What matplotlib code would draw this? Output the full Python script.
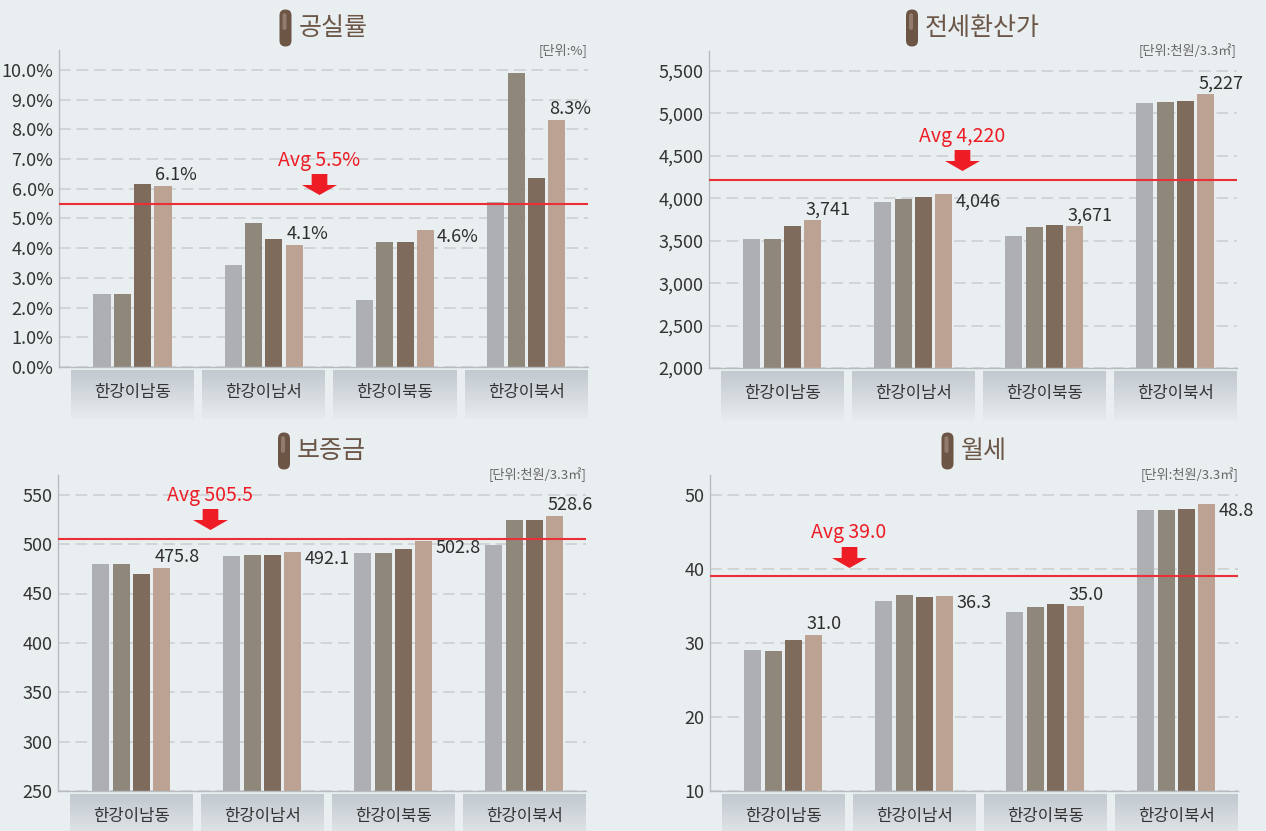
import numpy as np
import matplotlib
matplotlib.use("Agg")
import matplotlib.pyplot as plt
from matplotlib import transforms as mtransforms
from matplotlib.patches import Rectangle, FancyBboxPatch
from matplotlib.path import Path
from matplotlib.colors import to_rgb

plt.rcParams['font.family'] = ['Noto Sans CJK KR', 'DejaVu Sans']

# ---- data -------------------------------------------------------------
categories = ['한강이남동', '한강이남서', '한강이북동', '한강이북서']

# 공실률 (%)
vacancy_s1 = [2.45, 3.45, 2.25, 5.55]
vacancy_s2 = [2.45, 4.85, 4.2, 9.9]
vacancy_s3 = [6.15, 4.3, 4.2, 6.35]
vacancy_s4 = [6.1, 4.1, 4.6, 8.3]
vacancy_avg = 5.5

# 전세환산가 (천원/3.3㎡)
jeonse_s1 = [3515, 3958, 3553, 5119]
jeonse_s2 = [3515, 3990, 3660, 5131]
jeonse_s3 = [3672, 4012, 3680, 5146]
jeonse_s4 = [3741, 4046, 3671, 5227]
jeonse_avg = 4220

# 보증금 (천원/3.3㎡)
deposit_s1 = [479.5, 488.0, 491.0, 499.0]
deposit_s2 = [479.5, 489.3, 491.0, 524.7]
deposit_s3 = [469.7, 489.0, 495.3, 524.7]
deposit_s4 = [475.8, 492.1, 502.8, 528.6]
deposit_avg = 505.5

# 월세 (천원/3.3㎡)
rent_s1 = [29.0, 35.7, 34.2, 48.0]
rent_s2 = [28.85, 36.5, 34.8, 48.0]
rent_s3 = [30.4, 36.2, 35.2, 48.05]
rent_s4 = [31.0, 36.3, 35.0, 48.8]
rent_avg = 39.0

BG = '#e9eef0'
BAR_COLORS = ['#aeafb2', '#8e877a', '#7f6b5c', '#bca293']
RED = '#ee1c25'
TITLE_BROWN = '#6b5647'
W, H = 1266, 831

fig = plt.figure(figsize=(W / 100, H / 100), dpi=100, facecolor=BG)

# block arrow used under the "Avg" captions
arrow_path = Path([(-0.224, 0.3), (0.224, 0.3), (0.224, -0.014), (0.5, -0.014),
                   (0.0, -0.3), (-0.5, -0.014), (-0.224, -0.014), (-0.224, 0.3)],
                  closed=True)


def px_axes(left, top, right, bottom):
    return fig.add_axes([left / W, 1 - bottom / H, (right - left) / W, (bottom - top) / H])


def draw_title(ax, title, y_px):
    bbox = ax.get_position()
    cx = (bbox.x0 + bbox.x1) / 2 * W
    txt = fig.text(0, 1 - y_px / H, title, fontsize=18,
                   color=TITLE_BROWN, ha='left', va='center')
    renderer = fig.canvas.get_renderer()
    tw = txt.get_window_extent(renderer).width
    icon_w, gap, icon_h = 12, 7, 37
    start = cx - (icon_w + gap + tw) / 2
    txt.set_x((start + icon_w + gap) / W)
    y0 = H - y_px - icon_h / 2
    pill = FancyBboxPatch((start / 100, y0 / 100), icon_w / 100, icon_h / 100,
                          boxstyle='round,pad=0,rounding_size=0.06',
                          transform=fig.dpi_scale_trans, facecolor='#6d5546',
                          edgecolor='none')
    fig.patches.append(pill)
    shine = FancyBboxPatch(((start + 3) / 100, (y0 + icon_h * 0.45) / 100), 4 / 100,
                           icon_h * 0.45 / 100,
                           boxstyle='round,pad=0,rounding_size=0.02',
                           transform=fig.dpi_scale_trans, facecolor='#9c8576',
                           edgecolor='none', alpha=0.8)
    fig.patches.append(shine)


def draw_panel(rect, title, title_y, unit, series, avg, avg_text, avg_x,
               ylim, yticks, fmt_tick, fmt_val, label_modes):
    ax = px_axes(*rect)
    ax.set_facecolor(BG)
    x = np.arange(len(categories))
    pitch, width = 0.155, 0.13
    for i, (vals, col) in enumerate(zip(series, BAR_COLORS)):
        ax.bar(x + (i - 1.5) * pitch, vals, width=width, color=col, zorder=2)

    # value labels on the last series
    last = series[-1]
    for xi, v, mode in zip(x, last, label_modes):
        left_edge = xi + 1.5 * pitch - width / 2
        right_edge = xi + 1.5 * pitch + width / 2
        if mode == 'above':
            ax.annotate(fmt_val(v), (left_edge, v), xytext=(1, 6),
                        textcoords='offset pixels', ha='left', va='baseline',
                        fontsize=13, color='#2e2e2e', zorder=4)
        else:
            ax.annotate(fmt_val(v), (right_edge, v), xytext=(3, -7),
                        textcoords='offset pixels', ha='left', va='center',
                        fontsize=13, color='#2e2e2e', zorder=4)

    # average line, arrow and caption
    ax.axhline(avg, color='#ea2f36', linewidth=1.5, zorder=3)
    arrow_tr = mtransforms.offset_copy(ax.transData, fig=fig, x=0, y=19.5, units='dots')
    ax.plot([avg_x], [avg], marker=arrow_path, markersize=25.2, color=RED,
            markeredgewidth=0, transform=arrow_tr, clip_on=False, zorder=5)
    ax.annotate(avg_text, (avg_x, avg), xytext=(0, 38), textcoords='offset pixels',
                ha='center', va='baseline', fontsize=14, color=RED, zorder=5)

    ax.set_xlim(-0.56, 3.47)
    ax.set_ylim(*ylim)
    ax.set_yticks(yticks)
    ax.set_yticklabels([fmt_tick(t) for t in yticks])
    ax.set_xticks([])
    ax.tick_params(axis='y', length=0, pad=4, labelsize=13, labelcolor='#333333')
    ax.yaxis.grid(True, color='#cdd1d4', linewidth=1.2, linestyle=(0, (7, 3.5)))
    ax.set_axisbelow(True)
    for side in ('top', 'right'):
        ax.spines[side].set_visible(False)
    for side in ('left', 'bottom'):
        ax.spines[side].set_color('#b8bcbf')
        ax.spines[side].set_linewidth(1.0)

    # category boxes under the axis with a soft vertical gradient
    tr = mtransforms.blended_transform_factory(ax.transData, ax.transAxes)
    top_c, bot_c = np.array(to_rgb('#c2c9cf')), np.array(to_rgb('#e6eaec'))
    y_top, y_bot, nb = -0.01, -0.165, 20
    edges = np.linspace(y_top, y_bot, nb + 1)
    for xi, cat in zip(x, categories):
        for k in range(nb):
            c = top_c + (bot_c - top_c) * k / (nb - 1)
            ax.add_patch(Rectangle((xi - 0.47, edges[k + 1]), 0.94, edges[k] - edges[k + 1],
                                   transform=tr, facecolor=c, edgecolor='none',
                                   clip_on=False, zorder=1))
        ax.text(xi, -0.082, cat, transform=tr, ha='center', va='center',
                fontsize=12, color='#333333')

    ax.text(1.0, 1.0, unit, transform=ax.transAxes, ha='right', va='center',
            fontsize=9.5, color='#666666')
    draw_title(ax, title, title_y)
    return ax


draw_panel((59, 50, 588, 367), '공실률', 28, '[단위:%]',
           [vacancy_s1, vacancy_s2, vacancy_s3, vacancy_s4], vacancy_avg,
           f'Avg {vacancy_avg:.1f}%', 1.42, (0, 10.67), np.arange(0, 10.01, 1.0),
           lambda t: f'{t:.1f}%', lambda v: f'{v:.1f}%',
           ['above', 'above', 'right', 'above'])

draw_panel((709, 51, 1237, 368), '전세환산가', 28, '[단위:천원/3.3㎡]',
           [jeonse_s1, jeonse_s2, jeonse_s3, jeonse_s4], jeonse_avg,
           f'Avg {jeonse_avg:,}', 1.37, (2000, 5736), np.arange(2000, 5501, 500),
           lambda t: f'{t:,.0f}', lambda v: f'{v:,.0f}',
           ['above', 'right', 'above', 'above'])

draw_panel((58, 475, 586, 791), '보증금', 451, '[단위:천원/3.3㎡]',
           [deposit_s1, deposit_s2, deposit_s3, deposit_s4], deposit_avg,
           f'Avg {deposit_avg:.1f}', 0.6, (250, 570), np.arange(250, 551, 50),
           lambda t: f'{t:.0f}', lambda v: f'{v:.1f}',
           ['above', 'right', 'right', 'above'])

draw_panel((710, 475, 1238, 791), '월세', 451, '[단위:천원/3.3㎡]',
           [rent_s1, rent_s2, rent_s3, rent_s4], rent_avg,
           f'Avg {rent_avg:.1f}', 0.5, (10, 52.66), np.arange(10, 51, 10),
           lambda t: f'{t:.0f}', lambda v: f'{v:.1f}',
           ['above', 'right', 'above', 'right'])

fig.savefig('out.png', dpi=100, facecolor=BG)
